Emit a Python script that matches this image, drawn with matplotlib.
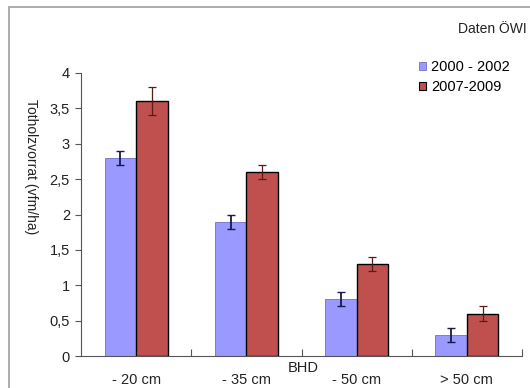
import numpy as np
import matplotlib.pyplot as plt
from matplotlib.patches import Rectangle, Patch

plt.rcParams['font.family'] = ['Liberation Sans', 'DejaVu Sans']

# data
categories = ["- 20 cm", "- 35 cm", "- 50 cm", "> 50 cm"]
series_names = ["2000 - 2002", "2007-2009"]
vals_early = [2.8, 1.9, 0.8, 0.3]
err_early = [0.1, 0.1, 0.1, 0.1]
vals_late = [3.6, 2.6, 1.3, 0.6]
err_late = [0.2, 0.1, 0.1, 0.1]
yticks = [0, 0.5, 1, 1.5, 2, 2.5, 3, 3.5, 4]

BLUE = "#9999FF"
RED = "#C0504D"

fig = plt.figure(figsize=(5.3, 3.88), dpi=100)
fig.patch.set_facecolor("white")

# outer chart frame
fig.patches.append(Rectangle((9 / 530, -0.2), 1.2, 1 - 7 / 388 + 0.2,
                             transform=fig.transFigure, fill=False,
                             edgecolor="#A0A0A0", linewidth=1.2))

ax = fig.add_axes([81 / 530, 1 - 356 / 388, (522 - 81) / 530, (356 - 73) / 388])

x = np.arange(len(categories))
w = 0.285
ax.bar(x - w / 2, vals_early, w, color=BLUE, edgecolor="#7070C0", linewidth=0.6, zorder=2)
ax.bar(x + w / 2, vals_late, w, color=RED, edgecolor="black", linewidth=1.0, zorder=2)
ax.errorbar(x - w / 2, vals_early, yerr=err_early, fmt="none", ecolor="#1a1a4a",
            elinewidth=1.3, capsize=3, capthick=1.0, zorder=3)
ax.errorbar(x + w / 2, vals_late, yerr=err_late, fmt="none", ecolor="#5a1a1a",
            elinewidth=0.9, capsize=3, capthick=0.9, zorder=3)

ax.set_xlim(-0.5, len(categories) - 0.5)
ax.set_ylim(0, 4)
ax.set_yticks(yticks)
ax.set_yticklabels([f"{t:g}".replace(".", ",") for t in yticks], fontsize=10.5, color="#222222")
ax.set_xticks(x)
ax.set_xticklabels(categories, fontsize=10.5, color="#222222")
ax.tick_params(axis="x", length=0, pad=12)
ax.set_xticks(np.arange(len(categories)) + 0.5, minor=True)
ax.tick_params(axis="x", which="minor", length=5, direction="in", width=0.8, color="#555555")
ax.tick_params(axis="y", length=4, direction="out", width=0.8, color="#555555", pad=4)

for s in ["top", "right"]:
    ax.spines[s].set_visible(False)
ax.spines["left"].set_color("#555555")
ax.spines["bottom"].set_color("#555555")
ax.spines["left"].set_linewidth(0.8)
ax.spines["bottom"].set_linewidth(0.8)

fig.text(31 / 530, 1 - 167 / 388, "Totholzvorrat (vfm/ha)", rotation=-90,
         ha="center", va="center", fontsize=10, color="#222222")
fig.text(303 / 530, 1 - 368 / 388, "BHD", ha="center", va="center", fontsize=10.5, color="#222222")
fig.text(527 / 530, 1 - 29 / 388, "Daten ÖWI", ha="right", va="center", fontsize=10, color="#222222")

handles = [Patch(facecolor=BLUE, edgecolor="#7070C0", linewidth=0.6),
           Patch(facecolor=RED, edgecolor="black", linewidth=0.8)]
fig.legend(handles, series_names, loc="upper left", bbox_to_anchor=(419 / 530, 1 - 60 / 388),
           frameon=False, fontsize=10.5, handlelength=0.5, handleheight=0.5,
           handletextpad=0.35, labelspacing=0.4, borderaxespad=0, borderpad=0)

fig.savefig("out.png", dpi=100)
